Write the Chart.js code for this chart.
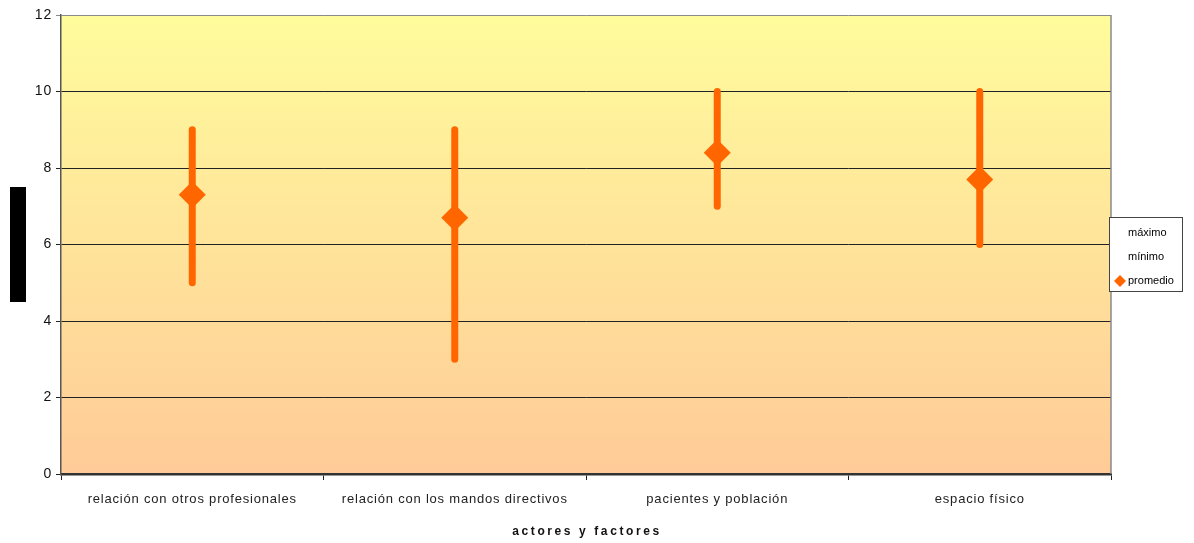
<!DOCTYPE html>
<html>
<head>
<meta charset="utf-8">
<script src="https://cdn.jsdelivr.net/npm/chart.js@4"></script>
<style>
html, body { margin: 0; padding: 0; background: #fff; }
#caixa { width: 1194px; height: 543px; position: relative; }
</style>
</head>
<body>
<div id="caixa"><canvas id="grafico"></canvas></div>
<script>
var categorias = ['relación con otros profesionales', 'relación con los mandos directivos', 'pacientes y población', 'espacio físico'];
var maximo = [9, 9, 10, 10];
var minimo = [5, 3, 7, 6];
var promedio = [7.3, 6.7, 8.4, 7.7];
var ticksY = [0, 2, 4, 6, 8, 10, 12];
var tituloX = 'actores y factores';

var laranja = '#FF6600';
var fonte = '"Liberation Sans", Arial, sans-serif';

// fundo degradê + espaçamento das letras
var fundo = {
    id: 'fundo',
    beforeDraw: function (chart) {
        var a = chart.chartArea;
        var ctx = chart.ctx;
        var g = ctx.createLinearGradient(0, a.top, 0, a.bottom);
        g.addColorStop(0, '#FFFC9C');
        g.addColorStop(1, '#FFCB98');
        ctx.save();
        ctx.fillStyle = g;
        ctx.fillRect(a.left, a.top, a.right - a.left, a.bottom - a.top);
        ctx.restore();
        ctx.letterSpacing = '0.8px';
    }
};

// linhas entre máximo e mínimo
var linhas = {
    id: 'linhas',
    beforeDatasetsDraw: function (chart) {
        var ctx = chart.ctx;
        var x = chart.scales.x, y = chart.scales.y;
        ctx.save();
        ctx.letterSpacing = '0px';
        ctx.strokeStyle = laranja;
        ctx.lineWidth = 7;
        ctx.lineCap = 'round';
        for (var i = 0; i < categorias.length; i++) {
            var px = x.getPixelForValue(i);
            ctx.beginPath();
            ctx.moveTo(px, y.getPixelForValue(maximo[i]));
            ctx.lineTo(px, y.getPixelForValue(minimo[i]));
            ctx.stroke();
        }
        ctx.restore();
    }
};

var extras = {
    id: 'extras',
    afterDraw: function (chart) {
        var ctx = chart.ctx;
        var a = chart.chartArea;
        ctx.save();
        ctx.letterSpacing = '0px';
        // borda direita
        ctx.strokeStyle = '#8a8a8a';
        ctx.lineWidth = 1.5;
        ctx.beginPath();
        ctx.moveTo(a.right, a.top);
        ctx.lineTo(a.right, a.bottom);
        ctx.stroke();

        // titulo do eixo y (bloco preto)
        ctx.fillStyle = '#000';
        ctx.fillRect(10, 187, 16, 115);

        // titulo do eixo x
        ctx.font = 'bold 12px ' + fonte;
        ctx.letterSpacing = '2.6px';
        ctx.fillStyle = '#111';
        ctx.textAlign = 'center';
        ctx.textBaseline = 'middle';
        ctx.fillText(tituloX, (a.left + a.right) / 2 + 1, 532);
        ctx.letterSpacing = '0px';

        // legenda
        ctx.fillStyle = '#fff';
        ctx.fillRect(1109.5, 217.5, 73, 74);
        ctx.strokeStyle = '#444';
        ctx.lineWidth = 1;
        ctx.strokeRect(1109.5, 217.5, 73, 74);
        ctx.font = '11px ' + fonte;
        ctx.fillStyle = '#000';
        ctx.textAlign = 'left';
        var ys = [233, 257, 281];
        chart.data.datasets.forEach(function (ds, i) {
            ctx.fillText(ds.label, 1128, ys[i]);
        });
        ctx.fillStyle = laranja;
        ctx.beginPath();
        ctx.moveTo(1120, ys[2] - 6);
        ctx.lineTo(1126, ys[2]);
        ctx.lineTo(1120, ys[2] + 6);
        ctx.lineTo(1114, ys[2]);
        ctx.closePath();
        ctx.fill();
        ctx.restore();
    }
};

var ctx = document.getElementById('grafico').getContext('2d');
var myChart = new Chart(ctx, {
    type: 'line',
    data: {
        labels: categorias,
        datasets: [{
            label: 'máximo',
            data: maximo,
            showLine: false,
            pointRadius: 0,
            pointHoverRadius: 0
        }, {
            label: 'mínimo',
            data: minimo,
            showLine: false,
            pointRadius: 0,
            pointHoverRadius: 0
        }, {
            label: 'promedio',
            data: promedio,
            showLine: false,
            pointStyle: 'rectRot',
            pointRadius: 13.5,
            pointHoverRadius: 13.5,
            backgroundColor: laranja,
            borderColor: laranja,
            borderWidth: 0
        }]
    },
    options: {
        responsive: true,
        maintainAspectRatio: false,
        animation: false,
        layout: { padding: { left: 0, top: 15, right: 83, bottom: 0 } },
        plugins: {
            legend: { display: false },
            tooltip: { enabled: false }
        },
        scales: {
            x: {
                offset: true,
                afterFit: function (s) { s.height = 69; },
                grid: {
                    offset: true,
                    drawOnChartArea: false,
                    tickLength: 6,
                    color: '#222'
                },
                border: { color: '#333', width: 2.5 },
                ticks: {
                    padding: 12,
                    color: '#222',
                    maxRotation: 0,
                    font: { family: fonte, size: 13 }
                }
            },
            y: {
                min: 0,
                max: 12,
                afterFit: function (s) { s.width = 61; },
                afterBuildTicks: function (s) {
                    s.ticks = ticksY.map(function (v) { return { value: v }; });
                },
                grid: {
                    tickLength: 5,
                    lineWidth: 1,
                    color: function (c) {
                        return c.tick && c.tick.value === 12 ? '#8a8a8a' : '#222';
                    }
                },
                border: { color: '#555', width: 1.5 },
                ticks: {
                    padding: 4,
                    color: '#111',
                    font: { family: fonte, size: 14 }
                }
            }
        }
    },
    plugins: [fundo, linhas, extras]
});
</script>
</body>
</html>
